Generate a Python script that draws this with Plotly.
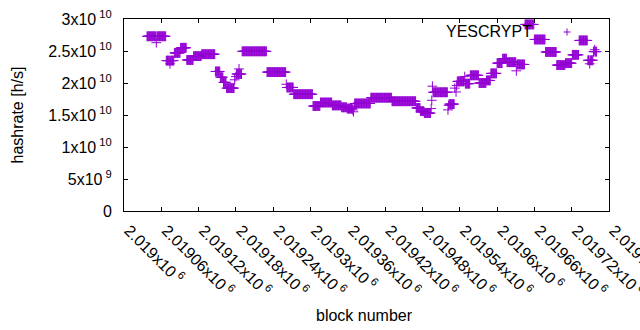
import plotly.graph_objects as go

# ---- data (block offsets from 2019000, hashrate in units of 1e9 h/s) ----
BASE_BLOCK = 2019000
seg_start = [37, 68, 81, 91, 101, 112, 125, 147, 155, 160, 165, 181, 190, 230, 262, 273,
             304, 316, 335, 350, 359, 371, 397, 431, 470, 477, 483, 497, 523, 536, 549,
             557, 571, 583, 590, 600, 609, 616, 632, 645, 660, 678, 698, 710, 721, 732,
             746, 755]
seg_end = [67, 80, 90, 100, 111, 124, 146, 154, 159, 164, 177, 189, 229, 260, 272, 303,
           315, 334, 349, 358, 367, 396, 430, 469, 476, 482, 493, 520, 531, 547, 556,
           570, 582, 589, 599, 608, 615, 630, 644, 659, 677, 695, 709, 720, 731, 745,
           754, 760]
seg_value = [27.3, 23.5, 24.7, 25.5, 23.6, 24.2, 24.5, 21.8, 20.9, 20.1, 19.2, 21.4, 24.95,
             21.7, 19.3, 18.25, 16.4, 16.95, 16.5, 16.2, 16.0, 16.8, 17.7, 17.15, 16.1,
             15.6, 15.3, 18.55, 16.7, 20.25, 19.9, 21.2, 20.0, 20.4, 21.5, 23.1, 23.8,
             23.25, 22.9, 29.15, 26.8, 24.85, 22.8, 23.1, 24.4, 26.65, 23.55, 24.9]

single_block = [52, 74, 178, 180, 185, 261, 368, 369, 370, 494, 495, 496, 521, 522,
                532, 534, 535, 548, 631, 696, 697, 749, 757]
single_value = [26.3, 23.0, 20.5, 21.0, 22.2, 19.8, 15.8, 15.5, 16.3, 16.0, 17.3, 19.5,
                15.8, 16.5, 19.2, 18.6, 19.6, 21.0, 21.9, 22.8, 22.8, 23.0, 25.2]

y_tick_vals = [0, 5e9, 1e10, 1.5e10, 2e10, 2.5e10, 3e10]
y_tick_text = ["0", "5x10<sup> 9</sup>", "1x10<sup> 10</sup>", "1.5x10<sup> 10</sup>",
               "2x10<sup> 10</sup>", "2.5x10<sup> 10</sup>", "3x10<sup> 10</sup>"]
x_tick_vals = [2019000, 2019060, 2019120, 2019180, 2019240, 2019300, 2019360,
               2019420, 2019480, 2019540, 2019600, 2019660, 2019720, 2019780]
x_tick_text = ["2.019", "2.01906", "2.01912", "2.01918", "2.01924", "2.0193", "2.01936",
               "2.01942", "2.01948", "2.01954", "2.0196", "2.01966", "2.01972", "2.01978"]

# ---- build per-block series ----
points = {}
for s, e, v in zip(seg_start, seg_end, seg_value):
    for b in range(s, e + 1):
        points[b] = v
for b, v in zip(single_block, single_value):
    points[b] = v
blocks = sorted(points)
xs = [BASE_BLOCK + b for b in blocks]
ys = [points[b] * 1e9 for b in blocks]

COLOR = "#9400D3"
FONT = "Liberation Sans, Arial, sans-serif"

fig = go.Figure()
fig.add_trace(go.Scatter(
    x=xs, y=ys, mode="markers", name="YESCRYPT", showlegend=False,
    marker=dict(symbol="cross-thin", size=7, color=COLOR,
                line=dict(color=COLOR, width=1)),
))

L, R, T, B = 124, 31, 19, 119
W, H = 640, 330
pw, ph = W - L - R, H - T - B

axis_common = dict(showline=True, linecolor="black", linewidth=1, mirror="ticks",
                   ticks="inside", ticklen=4, tickcolor="black", tickwidth=1,
                   showgrid=False, zeroline=False, ticklabeloverflow="allow",
                   tickfont=dict(family=FONT, size=16, color="black"))

fig.update_xaxes(range=[2019000, 2019780], tickmode="array", tickvals=x_tick_vals,
                 ticktext=[t + "x10<sup> 6</sup>" for t in x_tick_text],
                 tickangle=45, ticklabelstandoff=3, ticklabelshift=5, **axis_common)
fig.update_yaxes(range=[0, 3e10], tickmode="array", tickvals=y_tick_vals,
                 ticktext=y_tick_text, ticklabelstandoff=8, **axis_common)

# legend key (gnuplot style: text then sample)
kx, ky, arm = 567, 32, 3.5
fig.add_shape(type="line", xref="paper", yref="paper",
              x0=(kx - arm - L) / pw, x1=(kx + arm - L) / pw,
              y0=(H - B - ky) / ph, y1=(H - B - ky) / ph,
              line=dict(color=COLOR, width=1))
fig.add_shape(type="line", xref="paper", yref="paper",
              x0=(kx - L) / pw, x1=(kx - L) / pw,
              y0=(H - B - ky - arm) / ph, y1=(H - B - ky + arm) / ph,
              line=dict(color=COLOR, width=1))

fig.add_annotation(text="YESCRYPT", xref="paper", yref="paper",
                   x=(531 - L) / pw, y=(H - B - 31) / ph, xanchor="right", yanchor="middle",
                   xshift=3, showarrow=False,
                   font=dict(family=FONT, size=16, color="black"))
fig.add_annotation(text="hashrate [h/s]", xref="paper", yref="paper", x=0, y=0.5,
                   xshift=-107.5, textangle=-90, xanchor="center", yanchor="middle",
                   showarrow=False, font=dict(family=FONT, size=16, color="black"))
fig.add_annotation(text="block number", xref="paper", yref="paper", x=0.5, y=0,
                   xshift=-2.5, yshift=-104, xanchor="center", yanchor="middle",
                   showarrow=False, font=dict(family=FONT, size=16, color="black"))

fig.update_layout(width=W, height=H, margin=dict(l=L, r=R, t=T, b=B, autoexpand=False),
                  paper_bgcolor="white", plot_bgcolor="white", showlegend=False,
                  font=dict(family=FONT, size=16, color="black"))

fig.write_html("out.html", config={"displayModeBar": False, "staticPlot": True},
               post_script="document.body.style.margin='0';document.body.style.overflow='hidden';")
